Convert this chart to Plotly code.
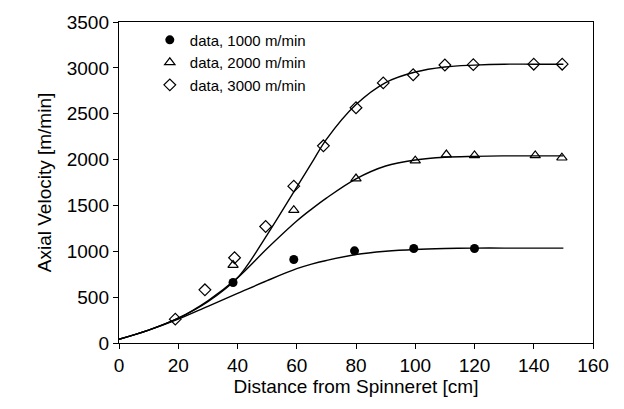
import plotly.graph_objects as go

# Measured data
x_1000 = [38.5, 59, 79.5, 99.5, 120]
y_1000 = [660, 910, 1005, 1030, 1030]

x_2000 = [38.5, 59, 80, 100, 110.5, 120, 140.5, 149.5]
y_2000 = [850, 1448, 1793, 1988, 2055, 2045, 2045, 2020]

x_3000 = [19, 29, 39, 49.5, 59, 69, 80, 89.2, 99.3, 110, 119.6, 140, 149.6]
y_3000 = [260, 580, 930, 1270, 1710, 2150, 2565, 2836, 2925, 3031, 3035, 3040, 3040]

# Model curves
cx = [0, 10, 20, 30, 40, 50, 60, 65, 70, 80, 90, 100, 110, 120, 130, 140, 150]
c_1000 = [40, 140, 260, 400, 540, 680, 810, 860, 900, 965, 1000, 1020, 1030, 1035, 1035, 1035, 1035]
c_2000 = [40, 140, 270, 460, 710, 1030, 1330, 1460, 1580, 1790, 1930, 1995, 2025, 2035, 2040, 2040, 2040]
c_3000 = [40, 140, 270, 450, 710, 1180, 1700, 1960, 2220, 2600, 2840, 2955, 3010, 3030, 3040, 3040, 3040]

legend_names = ["data, 1000 m/min", "data, 2000 m/min", "data, 3000 m/min"]

fig = go.Figure()
for cy in (c_1000, c_2000, c_3000):
    fig.add_trace(go.Scatter(x=cx, y=cy, mode="lines", line=dict(color="black", width=1.4, shape="spline"),
                             showlegend=False, hoverinfo="skip"))

fig.add_trace(go.Scatter(x=x_1000, y=y_1000, mode="markers", name=legend_names[0],
                         marker=dict(symbol="circle", size=9, color="black")))
fig.add_trace(go.Scatter(x=x_2000, y=y_2000, mode="markers", name=legend_names[1],
                         marker=dict(symbol="triangle-up-open", size=9, color="black", line=dict(width=1.2))))
fig.add_trace(go.Scatter(x=x_3000, y=y_3000, mode="markers", name=legend_names[2],
                         marker=dict(symbol="diamond-open", size=9, color="black", line=dict(width=1.2))))

font = "Liberation Sans, Arial, sans-serif"
fig.update_layout(
    width=624, height=409,
    margin=dict(l=119, r=31, t=15, b=66),
    paper_bgcolor="white", plot_bgcolor="white",
    font=dict(family=font, color="black", size=19),
    legend=dict(x=0.065, y=0.995, xanchor="left", yanchor="top", bgcolor="rgba(0,0,0,0)",
                font=dict(size=15, family=font), itemwidth=30, tracegroupgap=0),
    xaxis=dict(range=[0, 160], tickvals=[0, 20, 40, 60, 80, 100, 120, 140, 160],
               showgrid=False, zeroline=False, showline=True, linecolor="black", linewidth=1.4,
               mirror=True, ticks="outside", ticklen=5, tickcolor="black",
               title=dict(text="Distance from Spinneret [cm]", font=dict(size=19), standoff=4),
               tickfont=dict(size=19)),
    yaxis=dict(range=[0, 3500], tickvals=[0, 500, 1000, 1500, 2000, 2500, 3000, 3500],
               showgrid=False, zeroline=False, showline=True, linecolor="black", linewidth=1.4,
               mirror=True, ticks="outside", ticklen=5, tickcolor="black",
               title=dict(text="Axial Velocity [m/min]", font=dict(size=19), standoff=10),
               tickfont=dict(size=19)),
)

fig.write_html("out.html")
